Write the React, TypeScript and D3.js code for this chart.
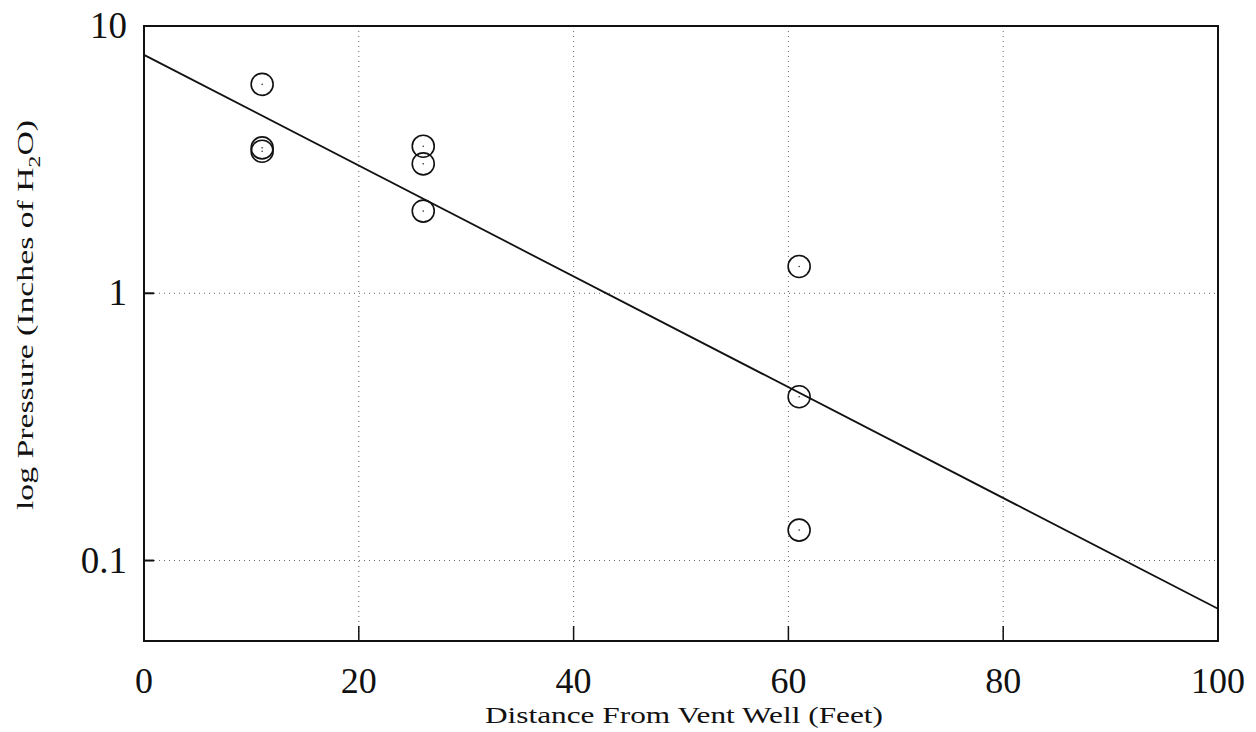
import React, { useEffect, useRef } from 'react';
import * as d3 from 'd3';

// measured points (distance ft, pressure in H2O)
const distances = [11, 11, 11, 26, 26, 26, 61, 61, 61];
const pressures = [6.05, 3.5, 3.4, 3.55, 3.05, 2.03, 1.26, 0.41, 0.13];

// fitted line end points
const fitX = [0, 100];
const fitY = [7.8, 0.066];

const xTicks = [0, 20, 40, 60, 80, 100];
const yTicks = [10, 1, 0.1];

const App = () => {
  const ref = useRef<SVGSVGElement>(null);

  useEffect(() => {
    const svg = d3.select(ref.current);
    svg.selectAll('*').remove();

    const left = 144,
      right = 1218,
      top = 26,
      bottom = 641;

    const x = d3.scaleLinear().domain([0, 100]).range([left, right]);
    const y = d3.scaleLog().domain([0.05, 10]).range([bottom, top]);

    const font = "'Times New Roman', 'Liberation Serif', serif";

    // dotted grid
    const grid = svg.append('g').attr('stroke', '#666').attr('stroke-width', 1).attr('stroke-dasharray', '1,4');
    xTicks.slice(1, -1).forEach((t) => {
      grid.append('line').attr('x1', x(t)).attr('x2', x(t)).attr('y1', top).attr('y2', bottom);
    });
    yTicks.slice(1).forEach((t) => {
      grid.append('line').attr('x1', left).attr('x2', right).attr('y1', y(t)).attr('y2', y(t));
    });

    // frame
    svg
      .append('rect')
      .attr('x', left)
      .attr('y', top)
      .attr('width', right - left)
      .attr('height', bottom - top)
      .attr('fill', 'none')
      .attr('stroke', '#111')
      .attr('stroke-width', 2);

    // ticks
    xTicks.slice(1, -1).forEach((t) => {
      svg
        .append('line')
        .attr('x1', x(t))
        .attr('x2', x(t))
        .attr('y1', bottom)
        .attr('y2', bottom - 15)
        .attr('stroke', '#111')
        .attr('stroke-width', 1.5);
    });
    yTicks.slice(1).forEach((t) => {
      svg
        .append('line')
        .attr('x1', left)
        .attr('x2', left + 10)
        .attr('y1', y(t))
        .attr('y2', y(t))
        .attr('stroke', '#111')
        .attr('stroke-width', 2);
    });

    // tick labels
    xTicks.forEach((t) => {
      svg
        .append('text')
        .attr('x', x(t))
        .attr('y', 693)
        .attr('text-anchor', 'middle')
        .attr('font-family', font)
        .attr('font-size', 36)
        .attr('fill', '#111')
        .text(t);
    });
    yTicks.forEach((t) => {
      svg
        .append('text')
        .attr('x', 127)
        .attr('y', y(t) + 12)
        .attr('text-anchor', 'end')
        .attr('font-family', font)
        .attr('font-size', 37)
        .attr('fill', '#111')
        .text(t);
    });

    // axis titles (the scan's lettering is stretched wide)
    svg
      .append('text')
      .attr('x', 684)
      .attr('y', 723)
      .attr('text-anchor', 'middle')
      .attr('font-family', font)
      .attr('font-size', 23)
      .attr('textLength', 398)
      .attr('lengthAdjust', 'spacingAndGlyphs')
      .attr('fill', '#111')
      .text('Distance From Vent Well (Feet)');

    const yl = svg
      .append('text')
      .attr('transform', 'translate(33,315)rotate(-90)')
      .attr('text-anchor', 'middle')
      .attr('font-family', font)
      .attr('font-size', 24)
      .attr('textLength', 390)
      .attr('lengthAdjust', 'spacingAndGlyphs')
      .attr('fill', '#111');
    yl.append('tspan').text('log Pressure (Inches of H');
    yl.append('tspan').attr('font-size', 17).attr('dy', 7).text('2');
    yl.append('tspan').attr('dy', -7).text('O)');

    // fit line
    const line = d3
      .line<number>()
      .x((d, i) => x(fitX[i]))
      .y((d) => y(d));
    svg
      .append('path')
      .attr('d', line(fitY))
      .attr('fill', 'none')
      .attr('stroke', '#111')
      .attr('stroke-width', 1.8);

    // points
    distances.forEach((d, i) => {
      svg
        .append('circle')
        .attr('cx', x(d))
        .attr('cy', y(pressures[i]))
        .attr('r', 11)
        .attr('fill', 'none')
        .attr('stroke', '#111')
        .attr('stroke-width', 1.6);
      svg
        .append('circle')
        .attr('cx', x(d))
        .attr('cy', y(pressures[i]))
        .attr('r', 0.8)
        .attr('fill', '#333');
    });
  }, []);

  return <svg ref={ref} width={1256} height={732} style={{ position: 'absolute', left: 0, top: 0, background: '#fff' }} />;
};

export default App;
